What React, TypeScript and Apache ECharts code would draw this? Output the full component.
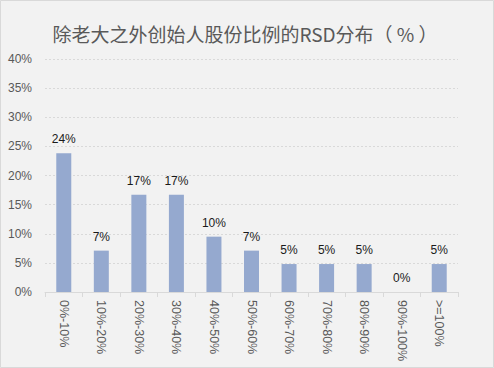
import React, { useEffect, useRef } from "react";
import * as echarts from "echarts";

const categories = ["0%-10%", "10%-20%", "20%-30%", "30%-40%", "40%-50%", "50%-60%", "60%-70%", "70%-80%", "80%-90%", "90%-100%", ">=100%"];
const values = [23.8, 7.1, 16.7, 16.7, 9.5, 7.1, 4.8, 4.8, 4.8, 0, 4.8];
const yTicks = { min: 0, max: 40, interval: 5 };
const titleText = "除老大之外创始人股份比例的RSD分布（ % ）";

export default function App() {
  const ref = useRef<HTMLDivElement>(null);
  useEffect(() => {
    if (!ref.current) return;
    const chart = echarts.init(ref.current, null, { renderer: "svg" });
    const font = "'Liberation Sans', Arial, 'Noto Sans CJK SC', sans-serif";
    chart.setOption({
      animation: false,
      backgroundColor: "#f2f2f2",
      textStyle: { fontFamily: font },
      graphic: [
        {
          type: "rect",
          shape: { x: 0.5, y: 0.5, width: 493, height: 367 },
          style: { fill: "none", stroke: "#d9d9d9", lineWidth: 1 },
          silent: true,
        },
      ],
      title: {
        text: titleText,
        left: 240,
        textAlign: "center",
        top: 19,
        textStyle: { color: "#595959", fontSize: 19, fontWeight: "normal", fontFamily: "'Noto Sans CJK SC', sans-serif" },
      },
      grid: { left: 45, right: 36, top: 59, bottom: 76, containLabel: false },
      xAxis: {
        type: "category",
        data: categories,
        axisLine: { lineStyle: { color: "#d9d9d9" } },
        axisTick: { show: true, length: 5, lineStyle: { color: "#d9d9d9" } },
        axisLabel: { rotate: -90, color: "#595959", fontSize: 12.5, margin: 8, interval: 0 },
      },
      yAxis: {
        type: "value",
        min: yTicks.min,
        max: yTicks.max,
        interval: yTicks.interval,
        axisLine: { show: false },
        axisTick: { show: false },
        axisLabel: { color: "#595959", fontSize: 12, margin: 13, formatter: "{value}%" },
        splitLine: { lineStyle: { color: "#d9d9d9", type: [2, 2] } },
      },
      series: [
        {
          type: "bar",
          data: values,
          barWidth: 15,
          itemStyle: { color: "#95a9cf" },
          label: {
            show: true,
            position: "top",
            distance: 8,
            color: "#1a1a1a",
            fontSize: 12,
            formatter: (p: any) => Math.round(p.value) + "%",
          },
        },
      ],
    });
    return () => chart.dispose();
  }, []);
  return <div ref={ref} style={{ position: "fixed", left: 0, top: 0, width: 494, height: 368 }} />;
}
